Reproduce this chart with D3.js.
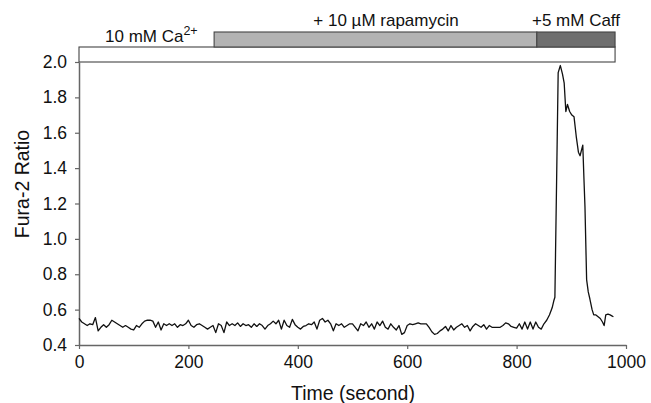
<!DOCTYPE html>
<html>
<head>
<meta charset="utf-8">
<script src="https://cdn.jsdelivr.net/npm/d3@7"></script>
<style>
  body { margin: 0; background: #fff; }
  svg { display: block; font-family: "Liberation Sans", Arial, sans-serif; }
</style>
</head>
<body>
<svg width="651" height="403"></svg>
<script>
// baseline trace, one sample every 5 s from t = 0 to 845 s
const baseStep = 5;
const baseRatio = [
    0.55, 0.53, 0.52, 0.51, 0.52, 0.515, 0.555, 0.48, 0.50, 0.515,
    0.50, 0.515, 0.54, 0.53, 0.52, 0.51, 0.50, 0.51, 0.50, 0.49,
    0.485, 0.51, 0.50, 0.52, 0.535, 0.54, 0.54, 0.535, 0.50, 0.53,
    0.485, 0.52, 0.51, 0.52, 0.51, 0.52, 0.50, 0.515, 0.51, 0.52,
    0.54, 0.51, 0.50, 0.515, 0.52, 0.51, 0.50, 0.49, 0.50, 0.51,
    0.47, 0.52, 0.51, 0.47, 0.53, 0.51, 0.52, 0.51, 0.525, 0.505,
    0.52, 0.51, 0.515, 0.50, 0.52, 0.505, 0.52, 0.51, 0.49, 0.51,
    0.52, 0.535, 0.52, 0.54, 0.49, 0.54, 0.51, 0.50, 0.545, 0.515,
    0.50, 0.49, 0.505, 0.51, 0.52, 0.515, 0.53, 0.49, 0.54, 0.55,
    0.53, 0.54, 0.52, 0.48, 0.52, 0.51, 0.52, 0.50, 0.51, 0.52,
    0.52, 0.50, 0.48, 0.52, 0.51, 0.53, 0.50, 0.52, 0.49, 0.53,
    0.51, 0.535, 0.50, 0.49, 0.52, 0.50, 0.485, 0.51, 0.46, 0.47,
    0.51, 0.52, 0.515, 0.52, 0.525, 0.52, 0.52, 0.52, 0.50, 0.475,
    0.46, 0.465, 0.48, 0.49, 0.505, 0.48, 0.51, 0.485, 0.50, 0.51,
    0.52, 0.50, 0.51, 0.48, 0.505, 0.52, 0.51, 0.50, 0.515, 0.49,
    0.51, 0.50, 0.50, 0.50, 0.50, 0.51, 0.525, 0.52, 0.505, 0.50,
    0.495, 0.52, 0.49, 0.53, 0.49, 0.53, 0.49, 0.53, 0.50, 0.49
];

// caffeine response, irregular time points
const peakTime = [850, 855, 860, 865, 868, 870, 873, 876, 880, 884, 887, 890, 893, 897,
    901, 905, 909, 913, 916, 921, 923, 925, 928, 931, 934, 938, 941, 945, 949,
    953, 957, 960, 963, 967, 971, 974, 977];
const peakRatio = [0.52, 0.54, 0.57, 0.61, 0.65, 0.67, 1.30, 1.94, 1.98, 1.93, 1.88, 1.72, 1.76, 1.72,
    1.70, 1.69, 1.58, 1.49, 1.47, 1.53, 1.35, 1.18, 0.77, 0.70, 0.66, 0.60, 0.57, 0.57, 0.56,
    0.55, 0.53, 0.51, 0.57, 0.575, 0.57, 0.565, 0.56];

// treatment periods (s)
const periodStart = [0, 247, 837];
const periodEnd = [980, 837, 980];
const periodFill = ["#ffffff", "#b3b3b3", "#6f6f6f"];

const xTicks = [0, 200, 400, 600, 800, 1000];
const yTicks = [0.4, 0.6, 0.8, 1.0, 1.2, 1.4, 1.6, 1.8, 2.0];

const svg = d3.select("svg");

const x = d3.scaleLinear().domain([0, 1000]).range([79, 626]);
const y = d3.scaleLinear().domain([0.4, 2.0]).range([345, 62]);

const trace = baseRatio.map((v, i) => ({ t: i * baseStep, v: v }))
    .concat(peakTime.map((t, i) => ({ t: t, v: peakRatio[i] })));

// axes
const xAxis = svg.append("g")
    .attr("transform", `translate(0,${y(0.4)})`)
    .call(d3.axisBottom(x).tickValues(xTicks).tickFormat(d3.format("d"))
        .tickSizeInner(4).tickSizeOuter(0).tickPadding(7));

const yAxis = svg.append("g")
    .attr("transform", `translate(${x(0)},0)`)
    .call(d3.axisLeft(y).tickValues(yTicks).tickFormat(d3.format(".1f"))
        .tickSizeInner(4).tickSizeOuter(0).tickPadding(8));

[xAxis, yAxis].forEach(a => {
    a.select(".domain").attr("stroke", "#666").attr("stroke-width", 1.5);
    a.selectAll(".tick line").attr("stroke", "#666").attr("stroke-width", 1.2);
    a.selectAll(".tick text").attr("fill", "#111").style("font-size", "17.5px");
});

// treatment bars on top
const boxH = 15;
svg.append("g").selectAll("rect")
    .data(periodStart)
    .enter().append("rect")
    .attr("x", (d, i) => x(d))
    .attr("width", (d, i) => x(periodEnd[i]) - x(d))
    .attr("y", (d, i) => i == 0 ? y(2.0) - boxH : y(2.0) - boxH * 2)
    .attr("height", boxH)
    .attr("fill", (d, i) => periodFill[i])
    .attr("stroke", "#444")
    .attr("stroke-width", 1.1);

// trace
svg.append("path")
    .datum(trace)
    .attr("fill", "none")
    .attr("stroke", "#111")
    .attr("stroke-width", 1.3)
    .attr("stroke-linejoin", "round")
    .attr("d", d3.line().x(d => x(d.t)).y(d => y(d.v)));

// labels
const lab = svg.append("g").style("font-size", "17px").attr("fill", "#111");

const ca = lab.append("text").attr("x", 105).attr("y", 42);
ca.append("tspan").text("10 mM Ca");
ca.append("tspan").attr("dy", -7).style("font-size", "12.5px").text("2+");

lab.append("text").attr("x", 386).attr("y", 26).attr("text-anchor", "middle")
    .text("+ 10 \u00b5M rapamycin");
lab.append("text").attr("x", 576).attr("y", 26).attr("text-anchor", "middle")
    .text("+5 mM Caff");

svg.append("text")
    .attr("x", 353).attr("y", 400)
    .attr("text-anchor", "middle")
    .style("font-size", "19.5px")
    .attr("fill", "#111")
    .text("Time (second)");

svg.append("text")
    .attr("transform", "translate(29,184) rotate(-90)")
    .attr("text-anchor", "middle")
    .style("font-size", "19.5px")
    .attr("fill", "#111")
    .text("Fura-2 Ratio");
</script>
</body>
</html>
